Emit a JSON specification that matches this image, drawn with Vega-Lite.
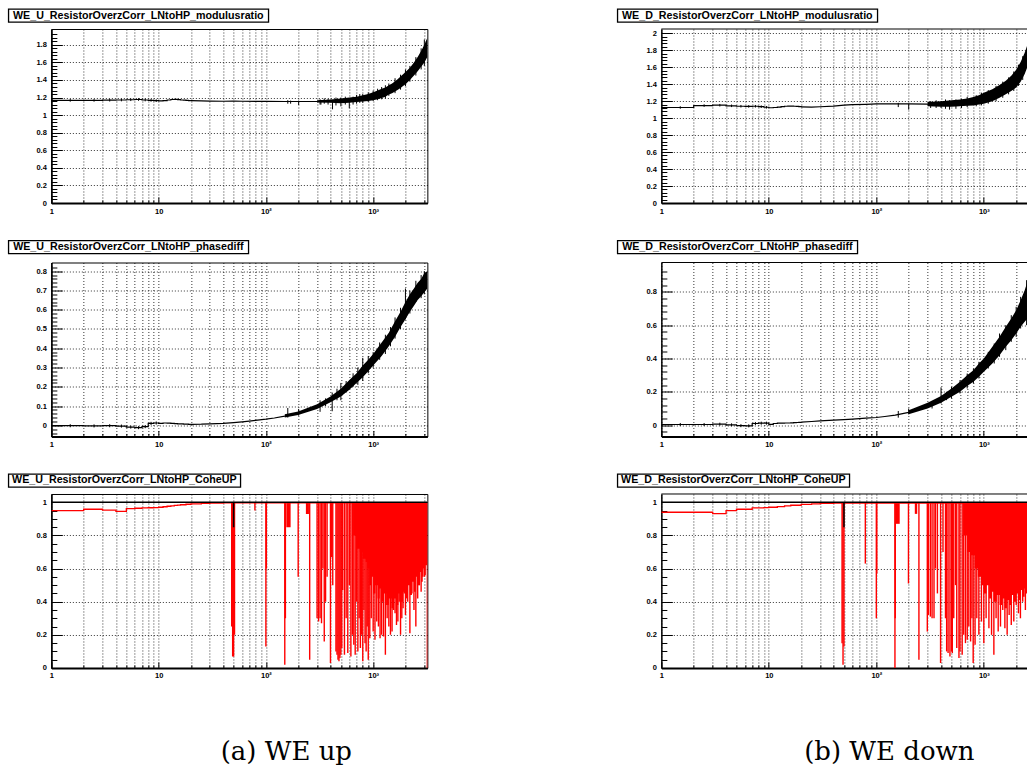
{
"$schema": "https://vega.github.io/schema/vega-lite/v6.json",
"background": "white",
"padding": {"left": 7.35, "top": 8, "right": 0, "bottom": 0},
"config": {
  "view": {"stroke": null},
  "font": "Liberation Sans",
  "axis": {"labelFont": "Liberation Sans", "labelFontWeight": "bold", "labelFontSize": 7.5, "labelColor": "black", "domainColor": "black", "tickColor": "black", "tickWidth": 1, "gridColor": "black", "gridDash": [1, 2], "gridWidth": 0.8, "tickCount": 500}
},
"datasets": {
  "a1_step": [{"f":1,"v":1.168},{"f":2,"v":1.168},{"f":3,"v":1.17},{"f":4,"v":1.172},{"f":5,"v":1.175},{"f":6,"v":1.178},{"f":7,"v":1.172},{"f":8,"v":1.168},{"f":9,"v":1.165},{"f":10,"v":1.162},{"f":11,"v":1.166},{"f":12,"v":1.172},{"f":13,"v":1.178},{"f":14,"v":1.18},{"f":15,"v":1.176},{"f":16,"v":1.172},{"f":17,"v":1.17},{"f":18,"v":1.168},{"f":19,"v":1.166},{"f":20,"v":1.165}],
  "a1_line": [{"f":20,"v":1.165},{"f":25,"v":1.162},{"f":30,"v":1.16},{"f":40,"v":1.158},{"f":50,"v":1.16},{"f":60,"v":1.158},{"f":80,"v":1.157},{"f":100,"v":1.158},{"f":150,"v":1.155},{"f":200,"v":1.155},{"f":300,"v":1.155},{"f":400,"v":1.158},{"f":500,"v":1.162},{"f":600,"v":1.17},{"f":700,"v":1.178},{"f":800,"v":1.19},{"f":900,"v":1.2},{"f":1000,"v":1.215},{"f":1200,"v":1.245},{"f":1400,"v":1.285},{"f":1600,"v":1.325},{"f":1800,"v":1.375},{"f":2000,"v":1.42},{"f":2200,"v":1.47},{"f":2400,"v":1.52},{"f":2600,"v":1.58},{"f":2800,"v":1.64},{"f":3000,"v":1.7},{"f":3200,"v":1.77}],
  "a1_band": [{"f":300,"v":1.145,"v2":1.168},{"f":400,"v":1.14,"v2":1.178},{"f":500,"v":1.135,"v2":1.19},{"f":600,"v":1.14,"v2":1.2},{"f":700,"v":1.148,"v2":1.21},{"f":800,"v":1.155,"v2":1.225},{"f":900,"v":1.16,"v2":1.24},{"f":1000,"v":1.17,"v2":1.26},{"f":1100,"v":1.18,"v2":1.28},{"f":1200,"v":1.195,"v2":1.3},{"f":1300,"v":1.21,"v2":1.315},{"f":1400,"v":1.235,"v2":1.34},{"f":1500,"v":1.25,"v2":1.36},{"f":1600,"v":1.27,"v2":1.385},{"f":1700,"v":1.29,"v2":1.41},{"f":1800,"v":1.31,"v2":1.44},{"f":1900,"v":1.33,"v2":1.465},{"f":2000,"v":1.35,"v2":1.49},{"f":2200,"v":1.4,"v2":1.54},{"f":2400,"v":1.45,"v2":1.6},{"f":2600,"v":1.5,"v2":1.66},{"f":2800,"v":1.55,"v2":1.73},{"f":3000,"v":1.6,"v2":1.8},{"f":3200,"v":1.66,"v2":1.88}],
  "a1_spk": [{"f":160,"v":1.13,"v2":1.17},{"f":170,"v":1.13,"v2":1.165},{"f":202,"v":1.115,"v2":1.165},{"f":320,"v":1.12,"v2":1.18},{"f":326,"v":1.12,"v2":1.17},{"f":350,"v":1.13,"v2":1.19},{"f":380,"v":1.12,"v2":1.185},{"f":418,"v":1.066,"v2":1.17},{"f":450,"v":1.11,"v2":1.2},{"f":500,"v":1.1,"v2":1.2},{"f":550,"v":1.12,"v2":1.21},{"f":599,"v":1.077,"v2":1.18},{"f":650,"v":1.12,"v2":1.21},{"f":700,"v":1.13,"v2":1.23},{"f":750,"v":1.14,"v2":1.24},{"f":800,"v":1.14,"v2":1.24},{"f":900,"v":1.15,"v2":1.26},{"f":1000,"v":1.16,"v2":1.28},{"f":1100,"v":1.17,"v2":1.3},{"f":1200,"v":1.18,"v2":1.32},{"f":1300,"v":1.19,"v2":1.34},{"f":1400,"v":1.22,"v2":1.36},{"f":1600,"v":1.25,"v2":1.42},{"f":1800,"v":1.29,"v2":1.46},{"f":2000,"v":1.33,"v2":1.52},{"f":2200,"v":1.38,"v2":1.56},{"f":2500,"v":1.45,"v2":1.66},{"f":2800,"v":1.52,"v2":1.76},{"f":3000,"v":1.56,"v2":1.86}],
  "a1_err": [{"f":1.5,"v":1.153,"v2":1.183},{"f":2.5,"v":1.153,"v2":1.183},{"f":3.5,"v":1.155,"v2":1.185},{"f":4.5,"v":1.157,"v2":1.187},{"f":5.5,"v":1.16,"v2":1.19},{"f":6.5,"v":1.163,"v2":1.193},{"f":7.5,"v":1.157,"v2":1.187},{"f":8.5,"v":1.153,"v2":1.183},{"f":9.5,"v":1.15,"v2":1.18}],
  "b1_step": [{"f":1,"v":1.125},{"f":2,"v":1.148},{"f":3,"v":1.152},{"f":4,"v":1.145},{"f":5,"v":1.14},{"f":6,"v":1.138},{"f":7,"v":1.14},{"f":8,"v":1.135},{"f":9,"v":1.128},{"f":10,"v":1.122},{"f":11,"v":1.125},{"f":12,"v":1.13},{"f":13,"v":1.135},{"f":14,"v":1.14},{"f":15,"v":1.142},{"f":16,"v":1.142},{"f":17,"v":1.14},{"f":18,"v":1.138},{"f":19,"v":1.135},{"f":20,"v":1.132}],
  "b1_line": [{"f":20,"v":1.132},{"f":25,"v":1.13},{"f":30,"v":1.134},{"f":40,"v":1.142},{"f":50,"v":1.152},{"f":60,"v":1.158},{"f":80,"v":1.163},{"f":100,"v":1.167},{"f":150,"v":1.168},{"f":200,"v":1.168},{"f":300,"v":1.165},{"f":400,"v":1.165},{"f":500,"v":1.17},{"f":600,"v":1.175},{"f":700,"v":1.18},{"f":800,"v":1.19},{"f":900,"v":1.205},{"f":1000,"v":1.23},{"f":1200,"v":1.27},{"f":1400,"v":1.31},{"f":1600,"v":1.36},{"f":1800,"v":1.41},{"f":2000,"v":1.47},{"f":2200,"v":1.55},{"f":2400,"v":1.64},{"f":2540,"v":1.72}],
  "b1_band": [{"f":300,"v":1.14,"v2":1.19},{"f":400,"v":1.135,"v2":1.2},{"f":500,"v":1.135,"v2":1.21},{"f":600,"v":1.14,"v2":1.22},{"f":700,"v":1.145,"v2":1.23},{"f":800,"v":1.15,"v2":1.25},{"f":900,"v":1.16,"v2":1.27},{"f":1000,"v":1.17,"v2":1.3},{"f":1200,"v":1.2,"v2":1.34},{"f":1400,"v":1.24,"v2":1.39},{"f":1600,"v":1.28,"v2":1.44},{"f":1800,"v":1.32,"v2":1.5},{"f":2000,"v":1.36,"v2":1.57},{"f":2200,"v":1.43,"v2":1.66},{"f":2400,"v":1.52,"v2":1.77},{"f":2540,"v":1.6,"v2":1.86}],
  "b1_spk": [{"f":160,"v":1.13,"v2":1.18},{"f":200,"v":1.1,"v2":1.17},{"f":320,"v":1.12,"v2":1.2},{"f":360,"v":1.12,"v2":1.21},{"f":400,"v":1.12,"v2":1.2},{"f":440,"v":1.11,"v2":1.22},{"f":480,"v":1.1,"v2":1.21},{"f":550,"v":1.11,"v2":1.22},{"f":620,"v":1.12,"v2":1.23},{"f":700,"v":1.13,"v2":1.25},{"f":850,"v":1.14,"v2":1.27},{"f":950,"v":1.15,"v2":1.3},{"f":1100,"v":1.17,"v2":1.33},{"f":1300,"v":1.2,"v2":1.38},{"f":1500,"v":1.24,"v2":1.43},{"f":1700,"v":1.28,"v2":1.48},{"f":1900,"v":1.32,"v2":1.55},{"f":2100,"v":1.38,"v2":1.63},{"f":2300,"v":1.45,"v2":1.73}],
  "b1_err": [{"f":1.5,"v":1.11,"v2":1.14},{"f":2.5,"v":1.133,"v2":1.163},{"f":3.5,"v":1.137,"v2":1.167},{"f":4.5,"v":1.13,"v2":1.16},{"f":5.5,"v":1.125,"v2":1.155},{"f":6.5,"v":1.123,"v2":1.153},{"f":7.5,"v":1.125,"v2":1.155},{"f":8.5,"v":1.12,"v2":1.15},{"f":9.5,"v":1.113,"v2":1.143}],
  "a2_step": [{"f":1,"v":-0.002},{"f":2,"v":-0.003},{"f":3,"v":-0.002},{"f":4,"v":-0.004},{"f":5,"v":-0.009},{"f":6,"v":-0.012},{"f":7,"v":-0.007},{"f":8,"v":0.01},{"f":9,"v":0.012},{"f":10,"v":0.01},{"f":11,"v":0.012},{"f":12,"v":0.011},{"f":13,"v":0.01},{"f":14,"v":0.009},{"f":15,"v":0.008},{"f":16,"v":0.007},{"f":17,"v":0.006},{"f":18,"v":0.006},{"f":19,"v":0.005},{"f":20,"v":0.005}],
  "a2_line": [{"f":20,"v":0.005},{"f":25,"v":0.006},{"f":30,"v":0.008},{"f":40,"v":0.01},{"f":50,"v":0.014},{"f":60,"v":0.018},{"f":70,"v":0.022},{"f":80,"v":0.026},{"f":100,"v":0.032},{"f":120,"v":0.038},{"f":150,"v":0.048},{"f":200,"v":0.063},{"f":250,"v":0.08},{"f":300,"v":0.097},{"f":400,"v":0.135},{"f":500,"v":0.17},{"f":600,"v":0.21},{"f":700,"v":0.245},{"f":800,"v":0.28},{"f":900,"v":0.31},{"f":1000,"v":0.34},{"f":1200,"v":0.395},{"f":1400,"v":0.445},{"f":1600,"v":0.5},{"f":1800,"v":0.55},{"f":2000,"v":0.595},{"f":2200,"v":0.635},{"f":2400,"v":0.665},{"f":2600,"v":0.69},{"f":2800,"v":0.715},{"f":3000,"v":0.74},{"f":3200,"v":0.76}],
  "a2_band": [{"f":150,"v":0.04,"v2":0.058},{"f":200,"v":0.054,"v2":0.072},{"f":300,"v":0.085,"v2":0.11},{"f":400,"v":0.12,"v2":0.15},{"f":500,"v":0.15,"v2":0.19},{"f":600,"v":0.185,"v2":0.235},{"f":700,"v":0.22,"v2":0.27},{"f":800,"v":0.25,"v2":0.31},{"f":900,"v":0.28,"v2":0.34},{"f":1000,"v":0.31,"v2":0.37},{"f":1200,"v":0.36,"v2":0.43},{"f":1400,"v":0.41,"v2":0.48},{"f":1600,"v":0.46,"v2":0.54},{"f":1800,"v":0.51,"v2":0.59},{"f":2000,"v":0.55,"v2":0.64},{"f":2200,"v":0.59,"v2":0.68},{"f":2400,"v":0.62,"v2":0.71},{"f":2600,"v":0.65,"v2":0.74},{"f":2800,"v":0.67,"v2":0.76},{"f":3000,"v":0.69,"v2":0.79},{"f":3200,"v":0.71,"v2":0.8}],
  "a2_spk": [{"f":160,"v":0.04,"v2":0.09},{"f":202,"v":0.05,"v2":0.085},{"f":320,"v":0.07,"v2":0.13},{"f":360,"v":0.1,"v2":0.14},{"f":415,"v":0.073,"v2":0.17},{"f":460,"v":0.13,"v2":0.19},{"f":500,"v":0.13,"v2":0.22},{"f":560,"v":0.17,"v2":0.23},{"f":650,"v":0.2,"v2":0.27},{"f":720,"v":0.21,"v2":0.3},{"f":800,"v":0.23,"v2":0.35},{"f":900,"v":0.27,"v2":0.36},{"f":1000,"v":0.3,"v2":0.38},{"f":1150,"v":0.34,"v2":0.43},{"f":1300,"v":0.37,"v2":0.47},{"f":1450,"v":0.41,"v2":0.51},{"f":1600,"v":0.45,"v2":0.56},{"f":1800,"v":0.5,"v2":0.61},{"f":2000,"v":0.55,"v2":0.71},{"f":2200,"v":0.58,"v2":0.7},{"f":2500,"v":0.64,"v2":0.75},{"f":2800,"v":0.66,"v2":0.78},{"f":3000,"v":0.68,"v2":0.8}],
  "a2_err": [{"f":1.5,"v":-0.01,"v2":0.006},{"f":2.5,"v":-0.011,"v2":0.005},{"f":3.5,"v":-0.01,"v2":0.006},{"f":4.5,"v":-0.012,"v2":0.004},{"f":5.5,"v":-0.017,"v2":-0.001},{"f":6.5,"v":-0.02,"v2":-0.004},{"f":7.5,"v":-0.015,"v2":0.001},{"f":8.5,"v":0.002,"v2":0.018},{"f":9.5,"v":0.004,"v2":0.02}],
  "b2_step": [{"f":1,"v":0.004},{"f":2,"v":0.004},{"f":3,"v":0.006},{"f":4,"v":0.002},{"f":5,"v":-0.003},{"f":6,"v":-0.004},{"f":7,"v":0.01},{"f":8,"v":0.012},{"f":9,"v":0.012},{"f":10,"v":0.005},{"f":11,"v":0.01},{"f":12,"v":0.012},{"f":13,"v":0.012},{"f":14,"v":0.013},{"f":15,"v":0.013},{"f":16,"v":0.014},{"f":17,"v":0.015},{"f":18,"v":0.016},{"f":19,"v":0.017},{"f":20,"v":0.018}],
  "b2_line": [{"f":20,"v":0.018},{"f":25,"v":0.022},{"f":30,"v":0.026},{"f":40,"v":0.03},{"f":50,"v":0.033},{"f":60,"v":0.036},{"f":80,"v":0.042},{"f":100,"v":0.046},{"f":120,"v":0.052},{"f":150,"v":0.06},{"f":200,"v":0.077},{"f":250,"v":0.097},{"f":300,"v":0.117},{"f":400,"v":0.155},{"f":500,"v":0.195},{"f":600,"v":0.23},{"f":700,"v":0.265},{"f":800,"v":0.295},{"f":900,"v":0.33},{"f":1000,"v":0.36},{"f":1200,"v":0.42},{"f":1400,"v":0.475},{"f":1600,"v":0.53},{"f":1800,"v":0.575},{"f":2000,"v":0.615},{"f":2200,"v":0.67},{"f":2400,"v":0.72},{"f":2540,"v":0.75}],
  "b2_band": [{"f":200,"v":0.065,"v2":0.09},{"f":300,"v":0.1,"v2":0.135},{"f":400,"v":0.135,"v2":0.175},{"f":500,"v":0.17,"v2":0.22},{"f":600,"v":0.2,"v2":0.26},{"f":700,"v":0.235,"v2":0.3},{"f":800,"v":0.26,"v2":0.33},{"f":900,"v":0.29,"v2":0.37},{"f":1000,"v":0.32,"v2":0.4},{"f":1200,"v":0.37,"v2":0.47},{"f":1400,"v":0.42,"v2":0.53},{"f":1600,"v":0.47,"v2":0.59},{"f":1800,"v":0.51,"v2":0.64},{"f":2000,"v":0.55,"v2":0.69},{"f":2200,"v":0.59,"v2":0.75},{"f":2400,"v":0.62,"v2":0.81},{"f":2540,"v":0.64,"v2":0.86}],
  "b2_spk": [{"f":160,"v":0.045,"v2":0.085},{"f":200,"v":0.065,"v2":0.1},{"f":330,"v":0.1,"v2":0.145},{"f":400,"v":0.13,"v2":0.227},{"f":450,"v":0.15,"v2":0.2},{"f":500,"v":0.16,"v2":0.23},{"f":600,"v":0.19,"v2":0.27},{"f":700,"v":0.22,"v2":0.31},{"f":800,"v":0.25,"v2":0.34},{"f":900,"v":0.28,"v2":0.38},{"f":1100,"v":0.34,"v2":0.44},{"f":1250,"v":0.37,"v2":0.49},{"f":1400,"v":0.41,"v2":0.55},{"f":1600,"v":0.45,"v2":0.6},{"f":1800,"v":0.5,"v2":0.66},{"f":2000,"v":0.53,"v2":0.71},{"f":2200,"v":0.58,"v2":0.77},{"f":2500,"v":0.6,"v2":0.87}],
  "b2_err": [{"f":1.5,"v":-0.005,"v2":0.013},{"f":2.5,"v":-0.005,"v2":0.013},{"f":3.5,"v":-0.003,"v2":0.015},{"f":4.5,"v":-0.007,"v2":0.011},{"f":5.5,"v":-0.012,"v2":0.006},{"f":6.5,"v":-0.013,"v2":0.005},{"f":7.5,"v":0.001,"v2":0.019},{"f":8.5,"v":0.003,"v2":0.021},{"f":9.5,"v":0.003,"v2":0.021}],
  "a3_red": [{"f":1,"v":0.95},{"f":2,"v":0.958},{"f":3,"v":0.953},{"f":4,"v":0.945},{"f":5,"v":0.962},{"f":6,"v":0.964},{"f":7,"v":0.966},{"f":8,"v":0.967},{"f":9,"v":0.968},{"f":10,"v":0.97},{"f":11,"v":0.973},{"f":12,"v":0.976},{"f":13,"v":0.978},{"f":14,"v":0.981},{"f":15,"v":0.983},{"f":16,"v":0.985},{"f":18,"v":0.988},{"f":20,"v":0.99},{"f":25,"v":0.993},{"f":30,"v":0.995},{"f":40,"v":0.996},{"f":3200,"v":0.996}],
  "a3_spk": [{"f":48,"v":0.25},{"f":49,"v":0.07},{"f":50,"v":0.07},{"f":51,"v":0.2},{"f":79,"v":0.95},{"f":100,"v":0.13},{"f":101,"v":0.6},{"f":150,"v":0.02},{"f":152,"v":0.3},{"f":200,"v":0.55},{"f":256,"v":0.05},{"f":300,"v":0.3},{"f":310,"v":0.28},{"f":320,"v":0.3},{"f":330,"v":0.27},{"f":340,"v":0.6},{"f":350,"v":0.16},{"f":360,"v":0.4},{"f":372,"v":0.55},{"f":400,"v":0.03},{"f":410,"v":0.67},{"f":420,"v":0.5},{"f":450,"v":0.1},{"f":460,"v":0.08},{"f":470,"v":0.05},{"f":480,"v":0.04},{"f":490,"v":0.06},{"f":500,"v":0.08},{"f":510,"v":0.12},{"f":520,"v":0.47},{"f":540,"v":0.08},{"f":560,"v":0.3},{"f":580,"v":0.09},{"f":600,"v":0.5},{"f":620,"v":0.07},{"f":640,"v":0.2},{"f":660,"v":0.14},{"f":680,"v":0.08},{"f":700,"v":0.4},{"f":720,"v":0.1},{"f":740,"v":0.3},{"f":760,"v":0.12},{"f":780,"v":0.2},{"f":800,"v":0.04},{"f":820,"v":0.35},{"f":840,"v":0.15},{"f":860,"v":0.1},{"f":880,"v":0.25},{"f":900,"v":0.05},{"f":930,"v":0.18},{"f":960,"v":0.3},{"f":1000,"v":0.22},{"f":1040,"v":0.17},{"f":1080,"v":0.28},{"f":1120,"v":0.25},{"f":1160,"v":0.18},{"f":1200,"v":0.2},{"f":1250,"v":0.19},{"f":1300,"v":0.08},{"f":1350,"v":0.3},{"f":1400,"v":0.25},{"f":1450,"v":0.2},{"f":1500,"v":0.22},{"f":1550,"v":0.35},{"f":1600,"v":0.33},{"f":1650,"v":0.26},{"f":1700,"v":0.28},{"f":1750,"v":0.4},{"f":1800,"v":0.2},{"f":1850,"v":0.3},{"f":1900,"v":0.36},{"f":1950,"v":0.45},{"f":2000,"v":0.32},{"f":2100,"v":0.4},{"f":2200,"v":0.21},{"f":2300,"v":0.45},{"f":2400,"v":0.35},{"f":2500,"v":0.25},{"f":2600,"v":0.42},{"f":2700,"v":0.5},{"f":2800,"v":0.46},{"f":2900,"v":0.55},{"f":3000,"v":0.55},{"f":3100,"v":0.68},{"f":3199,"v":0.0}],
  "a3_blk": [{"f":155,"f2":170,"v":0.85},{"f":236,"f2":252,"v":0.93}],
  "a3_dense": [{"f":650,"v":0.8},{"f":700,"v":0.72},{"f":750,"v":0.7},{"f":800,"v":0.66},{"f":850,"v":0.64},{"f":880,"v":0.6},{"f":920,"v":0.5},{"f":960,"v":0.55},{"f":1000,"v":0.45},{"f":1050,"v":0.5},{"f":1100,"v":0.42},{"f":1150,"v":0.48},{"f":1200,"v":0.4},{"f":1260,"v":0.45},{"f":1320,"v":0.38},{"f":1400,"v":0.42},{"f":1480,"v":0.36},{"f":1560,"v":0.42},{"f":1640,"v":0.38},{"f":1720,"v":0.45},{"f":1800,"v":0.4},{"f":1900,"v":0.46},{"f":2000,"v":0.42},{"f":2100,"v":0.5},{"f":2200,"v":0.44},{"f":2300,"v":0.52},{"f":2400,"v":0.46},{"f":2500,"v":0.55},{"f":2600,"v":0.5},{"f":2700,"v":0.58},{"f":2800,"v":0.52},{"f":2900,"v":0.6},{"f":3000,"v":0.56},{"f":3100,"v":0.62},{"f":3200,"v":0.6}],
  "b3_red": [{"f":1,"v":0.94},{"f":2,"v":0.94},{"f":3,"v":0.932},{"f":4,"v":0.95},{"f":5,"v":0.958},{"f":6,"v":0.958},{"f":7,"v":0.966},{"f":8,"v":0.966},{"f":9,"v":0.968},{"f":10,"v":0.97},{"f":12,"v":0.974},{"f":14,"v":0.978},{"f":16,"v":0.982},{"f":20,"v":0.987},{"f":25,"v":0.99},{"f":30,"v":0.993},{"f":40,"v":0.995},{"f":2540,"v":0.995}],
  "b3_spk": [{"f":48,"v":0.15},{"f":49,"v":0.02},{"f":50,"v":0.13},{"f":79,"v":0.63},{"f":100,"v":0.3},{"f":101,"v":0.57},{"f":149,"v":0.0},{"f":150,"v":0.3},{"f":199,"v":0.51},{"f":249,"v":0.05},{"f":298,"v":0.22},{"f":305,"v":0.32},{"f":318,"v":0.31},{"f":330,"v":0.3},{"f":344,"v":0.3},{"f":355,"v":0.6},{"f":370,"v":0.45},{"f":396,"v":0.03},{"f":417,"v":0.7},{"f":440,"v":0.3},{"f":451,"v":0.1},{"f":465,"v":0.09},{"f":484,"v":0.07},{"f":500,"v":0.1},{"f":509,"v":0.09},{"f":525,"v":0.3},{"f":546,"v":0.5},{"f":560,"v":0.12},{"f":587,"v":0.06},{"f":600,"v":0.1},{"f":629,"v":0.08},{"f":650,"v":0.2},{"f":675,"v":0.15},{"f":701,"v":0.17},{"f":725,"v":0.25},{"f":753,"v":0.16},{"f":775,"v":0.3},{"f":796,"v":0.03},{"f":829,"v":0.14},{"f":860,"v":0.3},{"f":899,"v":0.2},{"f":950,"v":0.28},{"f":1000,"v":0.15},{"f":1050,"v":0.3},{"f":1115,"v":0.24},{"f":1180,"v":0.2},{"f":1240,"v":0.08},{"f":1300,"v":0.3},{"f":1360,"v":0.22},{"f":1429,"v":0.25},{"f":1500,"v":0.35},{"f":1570,"v":0.24},{"f":1648,"v":0.2},{"f":1720,"v":0.32},{"f":1800,"v":0.26},{"f":1900,"v":0.28},{"f":2000,"v":0.38},{"f":2100,"v":0.33},{"f":2190,"v":0.3},{"f":2300,"v":0.4},{"f":2436,"v":0.35},{"f":2500,"v":0.45}],
  "b3_blk": [{"f":152,"f2":165,"v":0.87},{"f":228,"f2":240,"v":0.93}],
  "b3_dense": [{"f":650,"v":0.8},{"f":700,"v":0.7},{"f":760,"v":0.68},{"f":820,"v":0.6},{"f":880,"v":0.55},{"f":940,"v":0.5},{"f":1000,"v":0.45},{"f":1060,"v":0.5},{"f":1120,"v":0.42},{"f":1180,"v":0.46},{"f":1240,"v":0.4},{"f":1320,"v":0.44},{"f":1400,"v":0.38},{"f":1480,"v":0.42},{"f":1560,"v":0.36},{"f":1640,"v":0.41},{"f":1720,"v":0.38},{"f":1800,"v":0.44},{"f":1900,"v":0.4},{"f":2000,"v":0.45},{"f":2100,"v":0.41},{"f":2200,"v":0.47},{"f":2300,"v":0.43},{"f":2400,"v":0.48},{"f":2540,"v":0.45}],
  "coh_black": [{"f":1,"v":1},{"f":3200,"v":1}],
  "coh_bspk": [{"f":50,"v":0.85,"v2":1}],
  "one": [{}]
},
"spacing": 51,
"vconcat": [
 {"spacing": 21.5, "vconcat": [
  {"spacing": 5, "vconcat": [
   {"spacing": 347, "hconcat": [
     {"width": 260, "height": 13, "view": {"stroke": "black", "strokeWidth": 1.3, "fill": "white"}, "data": {"values": [{"t": "WE_U_ResistorOverzCorr_LNtoHP_modulusratio"}]}, "mark": {"type": "text", "font": "Liberation Sans", "fontWeight": "bold", "fontSize": 10.7, "color": "black", "align": "center", "baseline": "middle"}, "encoding": {"text": {"field": "t", "type": "nominal"}}},
     {"width": 260, "height": 13, "view": {"stroke": "black", "strokeWidth": 1.3, "fill": "white"}, "data": {"values": [{"t": "WE_D_ResistorOverzCorr_LNtoHP_modulusratio"}]}, "mark": {"type": "text", "font": "Liberation Sans", "fontWeight": "bold", "fontSize": 10.7, "color": "black", "align": "center", "baseline": "middle"}, "encoding": {"text": {"field": "t", "type": "nominal"}}}
   ]},
   {"spacing": 190, "hconcat": [
    {"spacing": 0, "hconcat": [
     {"width": 1, "height": 174, "data": {"name": "one"}, "mark": {"type": "text"}, "encoding": {"text": {"value": ""}}},
     {"width": 376, "height": 174, "view": {"stroke": "black", "strokeWidth": 1},
      "layer": [
       {"data": {"name": "a1_band"}, "mark": {"type": "area", "color": "black", "clip": true},
        "encoding": {
         "x": {"field": "f", "type": "quantitative", "scale": {"type": "log", "domain": [1, 3200], "nice": false},
               "axis": {"title": null, "tickCount": 500, "values": [1,2,3,4,5,6,7,8,9,10,20,30,40,50,60,70,80,90,100,200,300,400,500,600,700,800,900,1000,2000,3000], "labelExpr": "datum.value == 1 ? '1' : datum.value == 10 ? '10' : datum.value == 100 ? '10²' : datum.value == 1000 ? '10³' : ''", "grid": true, "labelFlush": false, "labelOverlap": false, "tickSize": {"condition": {"test": "datum.value == 1 || datum.value == 10 || datum.value == 100 || datum.value == 1000", "value": -6}, "value": -3}, "labelPadding": 10, "domainWidth": 2}},
         "y": {"field": "v", "type": "quantitative", "scale": {"domain": [0, 1.98], "nice": false, "zero": false},
               "axis": {"title": null, "tickCount": 500, "values": [0,0.04,0.08,0.12,0.16,0.2,0.24,0.28,0.32,0.36,0.4,0.44,0.48,0.52,0.56,0.6,0.64,0.68,0.72,0.76,0.8,0.84,0.88,0.92,0.96,1,1.04,1.08,1.12,1.16,1.2,1.24,1.28,1.32,1.36,1.4,1.44,1.48,1.52,1.56,1.6,1.64,1.68,1.72,1.76,1.8,1.84,1.88,1.92], "labelExpr": "abs(datum.value*5-round(datum.value*5))<0.01 ? format(datum.value,'.1~f') : ''", "grid": true, "gridOpacity": {"condition": {"test": "abs(datum.value*5-round(datum.value*5))<0.01", "value": 1}, "value": 0}, "tickSize": {"condition": {"test": "abs(datum.value*5-round(datum.value*5))<0.01", "value": -11}, "value": -5.5}, "labelPadding": 16, "minExtent": 41, "labelOverlap": false, "domainWidth": 1.5}},
         "y2": {"field": "v2"}}},
       {"data": {"name": "a1_spk"}, "mark": {"type": "rule", "color": "black", "strokeWidth": 1, "clip": true}, "encoding": {"x": {"field": "f", "type": "quantitative"}, "y": {"field": "v", "type": "quantitative"}, "y2": {"field": "v2"}}},
       {"data": {"name": "a1_step"}, "mark": {"type": "line", "interpolate": "step-after", "color": "black", "strokeWidth": 1.2, "clip": true}, "encoding": {"x": {"field": "f", "type": "quantitative"}, "y": {"field": "v", "type": "quantitative"}}},
       {"data": {"name": "a1_line"}, "mark": {"type": "line", "color": "black", "strokeWidth": 1.2, "clip": true}, "encoding": {"x": {"field": "f", "type": "quantitative"}, "y": {"field": "v", "type": "quantitative"}}},
       {"data": {"name": "a1_err"}, "mark": {"type": "rule", "color": "black", "strokeWidth": 1, "clip": true}, "encoding": {"x": {"field": "f", "type": "quantitative"}, "y": {"field": "v", "type": "quantitative"}, "y2": {"field": "v2"}}}
      ]}
    ]},
    {"width": 366, "height": 174,
     "layer": [
       {"data": {"name": "b1_band"}, "mark": {"type": "area", "color": "black", "clip": true},
        "encoding": {
         "x": {"field": "f", "type": "quantitative", "scale": {"type": "log", "domain": [1, 2540], "nice": false},
               "axis": {"title": null, "tickCount": 500, "values": [1,2,3,4,5,6,7,8,9,10,20,30,40,50,60,70,80,90,100,200,300,400,500,600,700,800,900,1000,2000], "labelExpr": "datum.value == 1 ? '1' : datum.value == 10 ? '10' : datum.value == 100 ? '10²' : datum.value == 1000 ? '10³' : ''", "grid": true, "labelFlush": false, "labelOverlap": false, "tickSize": {"condition": {"test": "datum.value == 1 || datum.value == 10 || datum.value == 100 || datum.value == 1000", "value": -6}, "value": -3}, "labelPadding": 10, "domainWidth": 2}},
         "y": {"field": "v", "type": "quantitative", "scale": {"domain": [0, 2.05], "nice": false, "zero": false},
               "axis": {"title": null, "tickCount": 500, "values": [0,0.04,0.08,0.12,0.16,0.2,0.24,0.28,0.32,0.36,0.4,0.44,0.48,0.52,0.56,0.6,0.64,0.68,0.72,0.76,0.8,0.84,0.88,0.92,0.96,1,1.04,1.08,1.12,1.16,1.2,1.24,1.28,1.32,1.36,1.4,1.44,1.48,1.52,1.56,1.6,1.64,1.68,1.72,1.76,1.8,1.84,1.88,1.92,1.96,2], "labelExpr": "abs(datum.value*5-round(datum.value*5))<0.01 ? format(datum.value,'.1~f') : ''", "grid": true, "gridOpacity": {"condition": {"test": "abs(datum.value*5-round(datum.value*5))<0.01", "value": 1}, "value": 0}, "tickSize": {"condition": {"test": "abs(datum.value*5-round(datum.value*5))<0.01", "value": -11}, "value": -5.5}, "labelPadding": 16, "minExtent": 43, "labelOverlap": false, "domainWidth": 1.5}},
         "y2": {"field": "v2"}}},
       {"data": {"name": "b1_spk"}, "mark": {"type": "rule", "color": "black", "strokeWidth": 1, "clip": true}, "encoding": {"x": {"field": "f", "type": "quantitative"}, "y": {"field": "v", "type": "quantitative"}, "y2": {"field": "v2"}}},
       {"data": {"name": "b1_step"}, "mark": {"type": "line", "interpolate": "step-after", "color": "black", "strokeWidth": 1.2, "clip": true}, "encoding": {"x": {"field": "f", "type": "quantitative"}, "y": {"field": "v", "type": "quantitative"}}},
       {"data": {"name": "b1_line"}, "mark": {"type": "line", "color": "black", "strokeWidth": 1.2, "clip": true}, "encoding": {"x": {"field": "f", "type": "quantitative"}, "y": {"field": "v", "type": "quantitative"}}},
       {"data": {"name": "b1_err"}, "mark": {"type": "rule", "color": "black", "strokeWidth": 1, "clip": true}, "encoding": {"x": {"field": "f", "type": "quantitative"}, "y": {"field": "v", "type": "quantitative"}, "y2": {"field": "v2"}}},
       {"data": {"name": "one"}, "mark": {"type": "rule", "color": "black", "strokeWidth": 1}, "encoding": {"y": {"datum": 2.05, "type": "quantitative"}}}
     ]}
   ]}
  ]},
  {"spacing": 7, "vconcat": [
   {"spacing": 367, "hconcat": [
     {"width": 240, "height": 13, "view": {"stroke": "black", "strokeWidth": 1.3, "fill": "white"}, "data": {"values": [{"t": "WE_U_ResistorOverzCorr_LNtoHP_phasediff"}]}, "mark": {"type": "text", "font": "Liberation Sans", "fontWeight": "bold", "fontSize": 10.7, "color": "black", "align": "center", "baseline": "middle"}, "encoding": {"text": {"field": "t", "type": "nominal"}}},
     {"width": 240, "height": 13, "view": {"stroke": "black", "strokeWidth": 1.3, "fill": "white"}, "data": {"values": [{"t": "WE_D_ResistorOverzCorr_LNtoHP_phasediff"}]}, "mark": {"type": "text", "font": "Liberation Sans", "fontWeight": "bold", "fontSize": 10.7, "color": "black", "align": "center", "baseline": "middle"}, "encoding": {"text": {"field": "t", "type": "nominal"}}}
   ]},
   {"spacing": 190, "hconcat": [
    {"spacing": 0, "hconcat": [
     {"width": 1, "height": 174, "data": {"name": "one"}, "mark": {"type": "text"}, "encoding": {"text": {"value": ""}}},
     {"width": 376, "height": 174, "view": {"stroke": "black", "strokeWidth": 1},
      "layer": [
       {"data": {"name": "a2_band"}, "mark": {"type": "area", "color": "black", "clip": true},
        "encoding": {
         "x": {"field": "f", "type": "quantitative", "scale": {"type": "log", "domain": [1, 3200], "nice": false},
               "axis": {"title": null, "tickCount": 500, "values": [1,2,3,4,5,6,7,8,9,10,20,30,40,50,60,70,80,90,100,200,300,400,500,600,700,800,900,1000,2000,3000], "labelExpr": "datum.value == 1 ? '1' : datum.value == 10 ? '10' : datum.value == 100 ? '10²' : datum.value == 1000 ? '10³' : ''", "grid": true, "labelFlush": false, "labelOverlap": false, "tickSize": {"condition": {"test": "datum.value == 1 || datum.value == 10 || datum.value == 100 || datum.value == 1000", "value": -6}, "value": -3}, "labelPadding": 10, "domainWidth": 2}},
         "y": {"field": "v", "type": "quantitative", "scale": {"domain": [-0.058, 0.845], "nice": false, "zero": false},
               "axis": {"title": null, "tickCount": 500, "values": [-0.04,-0.02,0,0.02,0.04,0.06,0.08,0.1,0.12,0.14,0.16,0.18,0.2,0.22,0.24,0.26,0.28,0.3,0.32,0.34,0.36,0.38,0.4,0.42,0.44,0.46,0.48,0.5,0.52,0.54,0.56,0.58,0.6,0.62,0.64,0.66,0.68,0.7,0.72,0.74,0.76,0.78,0.8,0.82], "labelExpr": "abs(datum.value*10-round(datum.value*10))<0.01 ? format(datum.value,'.1~f') : ''", "grid": true, "gridOpacity": {"condition": {"test": "abs(datum.value*10-round(datum.value*10))<0.01", "value": 1}, "value": 0}, "tickSize": {"condition": {"test": "abs(datum.value*10-round(datum.value*10))<0.01", "value": -11}, "value": -5.5}, "labelPadding": 16, "minExtent": 41, "labelOverlap": false, "domainWidth": 1.5}},
         "y2": {"field": "v2"}}},
       {"data": {"name": "a2_spk"}, "mark": {"type": "rule", "color": "black", "strokeWidth": 1, "clip": true}, "encoding": {"x": {"field": "f", "type": "quantitative"}, "y": {"field": "v", "type": "quantitative"}, "y2": {"field": "v2"}}},
       {"data": {"name": "a2_step"}, "mark": {"type": "line", "interpolate": "step-after", "color": "black", "strokeWidth": 1.2, "clip": true}, "encoding": {"x": {"field": "f", "type": "quantitative"}, "y": {"field": "v", "type": "quantitative"}}},
       {"data": {"name": "a2_line"}, "mark": {"type": "line", "color": "black", "strokeWidth": 1.2, "clip": true}, "encoding": {"x": {"field": "f", "type": "quantitative"}, "y": {"field": "v", "type": "quantitative"}}},
       {"data": {"name": "a2_err"}, "mark": {"type": "rule", "color": "black", "strokeWidth": 1, "clip": true}, "encoding": {"x": {"field": "f", "type": "quantitative"}, "y": {"field": "v", "type": "quantitative"}, "y2": {"field": "v2"}}}
      ]}
    ]},
    {"width": 366, "height": 174,
     "layer": [
       {"data": {"name": "b2_band"}, "mark": {"type": "area", "color": "black", "clip": true},
        "encoding": {
         "x": {"field": "f", "type": "quantitative", "scale": {"type": "log", "domain": [1, 2540], "nice": false},
               "axis": {"title": null, "tickCount": 500, "values": [1,2,3,4,5,6,7,8,9,10,20,30,40,50,60,70,80,90,100,200,300,400,500,600,700,800,900,1000,2000], "labelExpr": "datum.value == 1 ? '1' : datum.value == 10 ? '10' : datum.value == 100 ? '10²' : datum.value == 1000 ? '10³' : ''", "grid": true, "labelFlush": false, "labelOverlap": false, "tickSize": {"condition": {"test": "datum.value == 1 || datum.value == 10 || datum.value == 100 || datum.value == 1000", "value": -6}, "value": -3}, "labelPadding": 10, "domainWidth": 2}},
         "y": {"field": "v", "type": "quantitative", "scale": {"domain": [-0.068, 0.976], "nice": false, "zero": false},
               "axis": {"title": null, "tickCount": 500, "values": [-0.04,0,0.04,0.08,0.12,0.16,0.2,0.24,0.28,0.32,0.36,0.4,0.44,0.48,0.52,0.56,0.6,0.64,0.68,0.72,0.76,0.8,0.84,0.88,0.92], "labelExpr": "abs(datum.value*5-round(datum.value*5))<0.01 ? format(datum.value,'.1~f') : ''", "grid": true, "gridOpacity": {"condition": {"test": "abs(datum.value*5-round(datum.value*5))<0.01", "value": 1}, "value": 0}, "tickSize": {"condition": {"test": "abs(datum.value*5-round(datum.value*5))<0.01", "value": -11}, "value": -5.5}, "labelPadding": 16, "minExtent": 43, "labelOverlap": false, "domainWidth": 1.5}},
         "y2": {"field": "v2"}}},
       {"data": {"name": "b2_spk"}, "mark": {"type": "rule", "color": "black", "strokeWidth": 1, "clip": true}, "encoding": {"x": {"field": "f", "type": "quantitative"}, "y": {"field": "v", "type": "quantitative"}, "y2": {"field": "v2"}}},
       {"data": {"name": "b2_step"}, "mark": {"type": "line", "interpolate": "step-after", "color": "black", "strokeWidth": 1.2, "clip": true}, "encoding": {"x": {"field": "f", "type": "quantitative"}, "y": {"field": "v", "type": "quantitative"}}},
       {"data": {"name": "b2_line"}, "mark": {"type": "line", "color": "black", "strokeWidth": 1.2, "clip": true}, "encoding": {"x": {"field": "f", "type": "quantitative"}, "y": {"field": "v", "type": "quantitative"}}},
       {"data": {"name": "b2_err"}, "mark": {"type": "rule", "color": "black", "strokeWidth": 1, "clip": true}, "encoding": {"x": {"field": "f", "type": "quantitative"}, "y": {"field": "v", "type": "quantitative"}, "y2": {"field": "v2"}}},
       {"data": {"name": "one"}, "mark": {"type": "rule", "color": "black", "strokeWidth": 1}, "encoding": {"y": {"datum": 0.976, "type": "quantitative"}}}
     ]}
   ]}
  ]},
  {"spacing": 5, "vconcat": [
   {"spacing": 375, "hconcat": [
     {"width": 232, "height": 13, "view": {"stroke": "black", "strokeWidth": 1.3, "fill": "white"}, "data": {"values": [{"t": "WE_U_ResistorOverzCorr_LNtoHP_CoheUP"}]}, "mark": {"type": "text", "font": "Liberation Sans", "fontWeight": "bold", "fontSize": 10.7, "color": "black", "align": "center", "baseline": "middle"}, "encoding": {"text": {"field": "t", "type": "nominal"}}},
     {"width": 232, "height": 13, "view": {"stroke": "black", "strokeWidth": 1.3, "fill": "white"}, "data": {"values": [{"t": "WE_D_ResistorOverzCorr_LNtoHP_CoheUP"}]}, "mark": {"type": "text", "font": "Liberation Sans", "fontWeight": "bold", "fontSize": 10.7, "color": "black", "align": "center", "baseline": "middle"}, "encoding": {"text": {"field": "t", "type": "nominal"}}}
   ]},
   {"spacing": 190, "hconcat": [
    {"spacing": 0, "hconcat": [
     {"width": 1, "height": 174, "data": {"name": "one"}, "mark": {"type": "text"}, "encoding": {"text": {"value": ""}}},
     {"width": 376, "height": 174, "view": {"stroke": "black", "strokeWidth": 1},
      "layer": [
       {"data": {"name": "a3_dense"}, "mark": {"type": "area", "color": "#ff0000", "interpolate": "step-after", "clip": true},
        "encoding": {
         "x": {"field": "f", "type": "quantitative", "scale": {"type": "log", "domain": [1, 3200], "nice": false},
               "axis": {"title": null, "tickCount": 500, "values": [1,2,3,4,5,6,7,8,9,10,20,30,40,50,60,70,80,90,100,200,300,400,500,600,700,800,900,1000,2000,3000], "labelExpr": "datum.value == 1 ? '1' : datum.value == 10 ? '10' : datum.value == 100 ? '10²' : datum.value == 1000 ? '10³' : ''", "grid": true, "labelFlush": false, "labelOverlap": false, "tickSize": {"condition": {"test": "datum.value == 1 || datum.value == 10 || datum.value == 100 || datum.value == 1000", "value": -6}, "value": -3}, "labelPadding": 10, "domainWidth": 2}},
         "y": {"field": "v", "type": "quantitative", "scale": {"domain": [0, 1.05], "nice": false, "zero": false},
               "axis": {"title": null, "tickCount": 500, "values": [0,0.05,0.1,0.15,0.2,0.25,0.3,0.35,0.4,0.45,0.5,0.55,0.6,0.65,0.7,0.75,0.8,0.85,0.9,0.95,1], "labelExpr": "abs(datum.value*5-round(datum.value*5))<0.01 ? format(datum.value,'.1~f') : ''", "grid": true, "gridOpacity": {"condition": {"test": "abs(datum.value*5-round(datum.value*5))<0.01", "value": 1}, "value": 0}, "tickSize": {"condition": {"test": "abs(datum.value*5-round(datum.value*5))<0.01", "value": -11}, "value": -5.5}, "labelPadding": 16, "minExtent": 41, "labelOverlap": false, "domainWidth": 1.5}},
         "y2": {"datum": 0.995}}},
       {"data": {"name": "a3_blk"}, "mark": {"type": "rect", "color": "#ff0000", "clip": true}, "encoding": {"x": {"field": "f", "type": "quantitative"}, "x2": {"field": "f2"}, "y": {"field": "v", "type": "quantitative"}, "y2": {"datum": 0.995}}},
       {"data": {"name": "a3_spk"}, "mark": {"type": "rule", "color": "#ff0000", "strokeWidth": 1.4, "clip": true}, "encoding": {"x": {"field": "f", "type": "quantitative"}, "y": {"field": "v", "type": "quantitative"}, "y2": {"datum": 0.995}}},
       {"data": {"name": "a3_red"}, "mark": {"type": "line", "interpolate": "step-after", "color": "#ff0000", "strokeWidth": 1.3, "clip": true}, "encoding": {"x": {"field": "f", "type": "quantitative"}, "y": {"field": "v", "type": "quantitative"}}},
       {"data": {"name": "coh_black"}, "mark": {"type": "line", "color": "black", "strokeWidth": 1.5, "clip": true}, "encoding": {"x": {"field": "f", "type": "quantitative"}, "y": {"field": "v", "type": "quantitative"}}},
       {"data": {"name": "coh_bspk"}, "mark": {"type": "rule", "color": "black", "strokeWidth": 1.5, "clip": true}, "encoding": {"x": {"field": "f", "type": "quantitative"}, "y": {"field": "v", "type": "quantitative"}, "y2": {"field": "v2"}}}
      ]}
    ]},
    {"width": 366, "height": 174,
     "layer": [
       {"data": {"name": "b3_dense"}, "mark": {"type": "area", "color": "#ff0000", "interpolate": "step-after", "clip": true},
        "encoding": {
         "x": {"field": "f", "type": "quantitative", "scale": {"type": "log", "domain": [1, 2540], "nice": false},
               "axis": {"title": null, "tickCount": 500, "values": [1,2,3,4,5,6,7,8,9,10,20,30,40,50,60,70,80,90,100,200,300,400,500,600,700,800,900,1000,2000], "labelExpr": "datum.value == 1 ? '1' : datum.value == 10 ? '10' : datum.value == 100 ? '10²' : datum.value == 1000 ? '10³' : ''", "grid": true, "labelFlush": false, "labelOverlap": false, "tickSize": {"condition": {"test": "datum.value == 1 || datum.value == 10 || datum.value == 100 || datum.value == 1000", "value": -6}, "value": -3}, "labelPadding": 10, "domainWidth": 2}},
         "y": {"field": "v", "type": "quantitative", "scale": {"domain": [0, 1.05], "nice": false, "zero": false},
               "axis": {"title": null, "tickCount": 500, "values": [0,0.05,0.1,0.15,0.2,0.25,0.3,0.35,0.4,0.45,0.5,0.55,0.6,0.65,0.7,0.75,0.8,0.85,0.9,0.95,1], "labelExpr": "abs(datum.value*5-round(datum.value*5))<0.01 ? format(datum.value,'.1~f') : ''", "grid": true, "gridOpacity": {"condition": {"test": "abs(datum.value*5-round(datum.value*5))<0.01", "value": 1}, "value": 0}, "tickSize": {"condition": {"test": "abs(datum.value*5-round(datum.value*5))<0.01", "value": -11}, "value": -5.5}, "labelPadding": 16, "minExtent": 43, "labelOverlap": false, "domainWidth": 1.5}},
         "y2": {"datum": 0.995}}},
       {"data": {"name": "b3_blk"}, "mark": {"type": "rect", "color": "#ff0000", "clip": true}, "encoding": {"x": {"field": "f", "type": "quantitative"}, "x2": {"field": "f2"}, "y": {"field": "v", "type": "quantitative"}, "y2": {"datum": 0.995}}},
       {"data": {"name": "b3_spk"}, "mark": {"type": "rule", "color": "#ff0000", "strokeWidth": 1.4, "clip": true}, "encoding": {"x": {"field": "f", "type": "quantitative"}, "y": {"field": "v", "type": "quantitative"}, "y2": {"datum": 0.995}}},
       {"data": {"name": "b3_red"}, "mark": {"type": "line", "interpolate": "step-after", "color": "#ff0000", "strokeWidth": 1.3, "clip": true}, "encoding": {"x": {"field": "f", "type": "quantitative"}, "y": {"field": "v", "type": "quantitative"}}},
       {"data": {"name": "coh_black"}, "mark": {"type": "line", "color": "black", "strokeWidth": 1.5, "clip": true}, "encoding": {"x": {"field": "f", "type": "quantitative"}, "y": {"field": "v", "type": "quantitative"}}},
       {"data": {"name": "coh_bspk"}, "mark": {"type": "rule", "color": "black", "strokeWidth": 1.5, "clip": true}, "encoding": {"x": {"field": "f", "type": "quantitative"}, "y": {"field": "v", "type": "quantitative"}, "y2": {"field": "v2"}}},
       {"data": {"name": "one"}, "mark": {"type": "rule", "color": "black", "strokeWidth": 1}, "encoding": {"y": {"datum": 1.05, "type": "quantitative"}}}
     ]}
   ]}
  ]}
 ]},
 {"spacing": 189, "hconcat": [
   {"width": 556, "height": 36, "data": {"values": [{"t": "(a) WE up"}]}, "mark": {"type": "text", "font": "DejaVu Serif", "fontSize": 26, "color": "black", "align": "center", "baseline": "middle"}, "encoding": {"text": {"field": "t", "type": "nominal"}}},
   {"width": 272, "height": 36, "data": {"values": [{"t": "(b) WE down"}]}, "mark": {"type": "text", "font": "DejaVu Serif", "fontSize": 26, "color": "black", "align": "center", "baseline": "middle"}, "encoding": {"text": {"field": "t", "type": "nominal"}}}
 ]}
]
}
